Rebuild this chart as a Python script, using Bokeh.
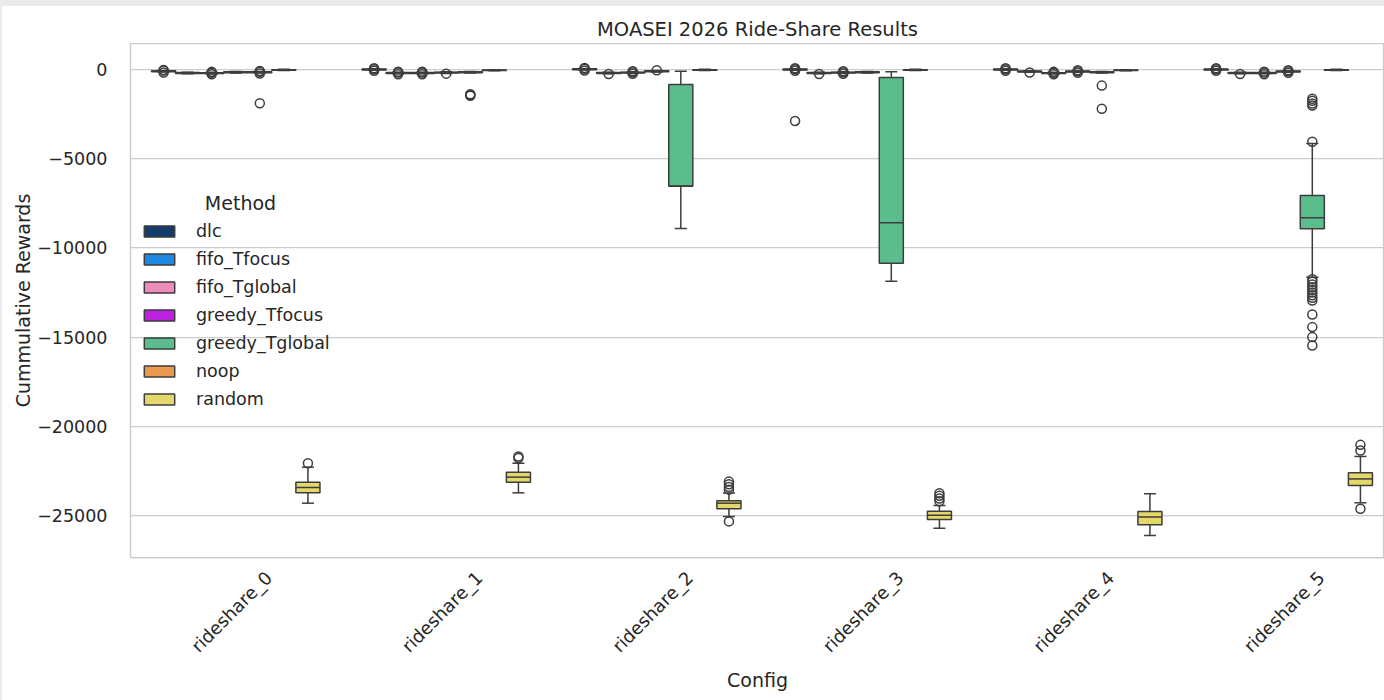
import math

from bokeh.embed import file_html
from bokeh.layouts import column, row
from bokeh.models import ColumnDataSource, FixedTicker, Label, Legend, LegendItem, Range1d, Spacer
from bokeh.plotting import figure
from bokeh.resources import INLINE

# ---------------------------------------------------------------- data
configs = ["rideshare_0", "rideshare_1", "rideshare_2", "rideshare_3", "rideshare_4", "rideshare_5"]
methods = ["dlc", "fifo_Tfocus", "fifo_Tglobal", "greedy_Tfocus", "greedy_Tglobal", "noop", "random"]
method_colors = ["#133b6b", "#2088e0", "#ee8cbc", "#bc22de", "#5bbc8c", "#e89b50", "#e4d86a"]

# box statistics, one row per method, one column per config
median = [
    [-95, 0, 20, 0, 0, 0],
    [-190, -190, -190, -190, -110, -190],
    [-200, -190, -170, -170, -200, -190],
    [-150, -170, -95, -150, -110, -110],
    [-150, -150, -6530, -8590, -150, -8310],
    [-20, -40, -20, -20, -40, -20],
    [-23430, -22850, -24310, -24980, -25090, -22950],
]
q1 = [
    [-120, -25, -5, -25, -25, -25],
    [-215, -215, -215, -215, -135, -215],
    [-225, -215, -195, -195, -225, -215],
    [-175, -195, -120, -175, -135, -135],
    [-175, -175, -6540, -10860, -175, -8930],
    [-35, -55, -35, -35, -55, -35],
    [-23730, -23130, -24620, -25220, -25520, -23320],
]
q3 = [
    [-70, 25, 45, 25, 25, 25],
    [-165, -165, -165, -165, -85, -165],
    [-175, -165, -145, -145, -175, -165],
    [-125, -145, -70, -125, -85, -85],
    [-125, -125, -840, -450, -125, -7060],
    [-5, -25, -5, -5, -25, -5],
    [-23130, -22570, -24170, -24760, -24770, -22610],
]
whisker_low = [
    [-140, -45, -25, -45, -45, -45],
    [-235, -235, -235, -235, -155, -235],
    [-245, -235, -215, -215, -245, -235],
    [-195, -215, -140, -195, -155, -155],
    [-195, -195, -8910, -11870, -195, -11640],
    [-50, -70, -50, -50, -70, -50],
    [-24310, -23730, -25050, -25710, -26120, -24290],
]
whisker_high = [
    [-50, 45, 65, 45, 45, 45],
    [-145, -145, -145, -145, -65, -145],
    [-155, -145, -125, -125, -155, -145],
    [-105, -125, -50, -105, -65, -65],
    [-105, -105, -95, -120, -105, -4150],
    [10, -10, 10, 10, -10, 10],
    [-22290, -22070, -23740, -24440, -23780, -21690],
]
fliers = [
    [[-25, -165, -60], [70, -70, 20], [90, -50, 40], [70, -70, 20, -2880], [70, -70, 20], [70, -70, 20]],
    [[], [-120, -260, -170], [-250], [-250], [-170], [-250]],
    [[-130, -270, -180], [-120, -260, -170], [-100, -240, -150], [-100, -240, -150], [-130, -270, -180], [-120, -260, -170]],
    [[], [-230], [-40], [], [-40, -180, -90], [-40, -180, -90]],
    [[-80, -220, -130, -1890], [-1380, -1430, -1470], [], [], [-900, -2200],
     [-4050, -1640, -1750, -1900, -2020, -11750, -11900, -12050, -12200, -12350, -12500,
      -12650, -12800, -12950, -13730, -14440, -15000, -15470]],
    [[], [], [], [], [], []],
    [[-22070], [-21690, -21780], [-23100, -23250, -23400, -23550, -25330],
     [-23750, -23900, -24050, -24200], [], [-21040, -21360, -24620]],
]

y_ticks = [0, -5000, -10000, -15000, -20000, -25000]

# ---------------------------------------------------------------- styling
FONT = "DejaVu Sans"
TEXT = "#262626"
EDGE = "#3d3d3d"
SPINE = "#cccccc"

frame_w, frame_h = 1254, 514
x_lo = -0.5
x_hi = x_lo + frame_w / 210.5
y_lo, y_hi = -27355, 1460
y_per_px = (y_hi - y_lo) / frame_h
x_per_px = (x_hi - x_lo) / frame_w

p = figure(
    width=1382, height=694,
    x_range=Range1d(x_lo, x_hi), y_range=Range1d(y_lo, y_hi),
    output_backend="svg", toolbar_location=None,
    min_border_left=128, min_border_right=0, min_border_top=37, min_border_bottom=143,
    background_fill_color="white", border_fill_color="white",
)
p.outline_line_color = SPINE
p.outline_line_width = 1.25

p.title.text = "MOASEI 2026 Ride-Share Results"
p.title.align = "center"
p.title.text_font = FONT
p.title.text_font_size = "19.5px"
p.title.text_font_style = "normal"
p.title.text_color = TEXT
p.title.standoff = 6

p.xgrid.visible = False
p.ygrid.grid_line_color = SPINE
p.ygrid.grid_line_width = 1.25
p.ygrid.ticker = FixedTicker(ticks=y_ticks)

p.yaxis.ticker = FixedTicker(ticks=y_ticks)
p.yaxis.major_label_overrides = {t: (str(t).replace("-", "\u2212")) for t in y_ticks}
p.yaxis.axis_line_color = SPINE
p.yaxis.axis_line_width = 1.25
p.yaxis.major_tick_line_color = None
p.yaxis.minor_tick_line_color = None
p.yaxis.major_label_standoff = 17
p.yaxis.major_label_text_font = FONT
p.yaxis.major_label_text_font_size = "17.5px"
p.yaxis.major_label_text_color = TEXT
p.yaxis.axis_label = "Cummulative Rewards"
p.yaxis.axis_label_text_font = FONT
p.yaxis.axis_label_text_font_size = "19px"
p.yaxis.axis_label_text_font_style = "normal"
p.yaxis.axis_label_text_color = TEXT
p.yaxis.axis_label_standoff = 0

# rotated category labels: the text end sits up and to the right of each
# category centre so the label is centred under its group
label_shift = 33 * x_per_px
x_tick_pos = [c + label_shift for c in range(len(configs))]
p.xaxis.ticker = FixedTicker(ticks=x_tick_pos)
p.xaxis.major_label_overrides = {t: name for t, name in zip(x_tick_pos, configs)}
p.xaxis.major_label_orientation = math.pi / 4
p.xaxis.major_label_standoff = 17
p.xaxis.major_label_text_font = FONT
p.xaxis.major_label_text_font_size = "18px"
p.xaxis.major_label_text_color = TEXT
p.xaxis.axis_line_color = SPINE
p.xaxis.axis_line_width = 1.25
p.xaxis.major_tick_line_color = None
p.xaxis.major_tick_out = 0
p.xaxis.minor_tick_line_color = None
p.xaxis.axis_label = "Config"
p.xaxis.axis_label_text_font = FONT
p.xaxis.axis_label_text_font_size = "19px"
p.xaxis.axis_label_text_font_style = "normal"
p.xaxis.axis_label_text_color = TEXT
p.xaxis.axis_label_standoff = 2

# ---------------------------------------------------------------- boxes
n_methods = len(methods)
slot = 0.8 / n_methods
box_w = slot
cap_w = box_w / 2

legend_items = []
for m, name in enumerate(methods):
    offset = -0.4 + slot * (m + 0.5)
    xs = [c + offset for c in range(len(configs))]
    src = ColumnDataSource(dict(
        x=xs,
        q1=q1[m], q3=q3[m], med=median[m],
        lo=whisker_low[m], hi=whisker_high[m],
        xl=[x - box_w / 2 for x in xs], xr=[x + box_w / 2 for x in xs],
        cl=[x - cap_w / 2 for x in xs], cr=[x + cap_w / 2 for x in xs],
    ))
    # whiskers and caps
    p.segment(x0="x", y0="q3", x1="x", y1="hi", source=src, line_color=EDGE, line_width=1.5)
    p.segment(x0="x", y0="q1", x1="x", y1="lo", source=src, line_color=EDGE, line_width=1.5)
    p.segment(x0="cl", y0="hi", x1="cr", y1="hi", source=src, line_color=EDGE, line_width=1.5)
    p.segment(x0="cl", y0="lo", x1="cr", y1="lo", source=src, line_color=EDGE, line_width=1.5)
    # box body and median
    box = p.vbar(x="x", width=box_w, top="q3", bottom="q1", source=src,
                 fill_color=method_colors[m], line_color=EDGE, line_width=1.5)
    p.segment(x0="xl", y0="med", x1="xr", y1="med", source=src, line_color=EDGE, line_width=1.5)
    # outliers
    fx, fy = [], []
    for c, vals in enumerate(fliers[m]):
        fx += [xs[c]] * len(vals)
        fy += vals
    if fx:
        p.scatter(x=fx, y=fy, marker="circle", size=9, fill_color=None,
                  line_color=EDGE, line_width=1.5)
    legend_items.append(LegendItem(label=name, renderers=[box]))

legend = Legend(
    items=legend_items, location=(10, 148),
    glyph_width=38, glyph_height=14, label_height=20, spacing=8,
    label_standoff=18, padding=0, margin=0,
    label_text_font=FONT, label_text_font_size="17.5px", label_text_color=TEXT,
    background_fill_alpha=0, border_line_alpha=0,
)
p.add_layout(legend)

# legend heading, centred over the entries
p.add_layout(Label(
    x=x_lo + 110 * x_per_px, y=y_hi - 159 * y_per_px, text="Method",
    text_font=FONT, text_font_size="19px", text_color=TEXT,
    text_align="center", text_baseline="middle",
))

top_strip = Spacer(width=1384, height=6, styles={"background-color": "#eaeaea"})
left_strip = Spacer(width=2, height=694, styles={"background-color": "#eaeaea"})
page = column(top_strip, row(left_strip, p, spacing=0), spacing=0)

open("out.html", "w").write(file_html(page, INLINE))
